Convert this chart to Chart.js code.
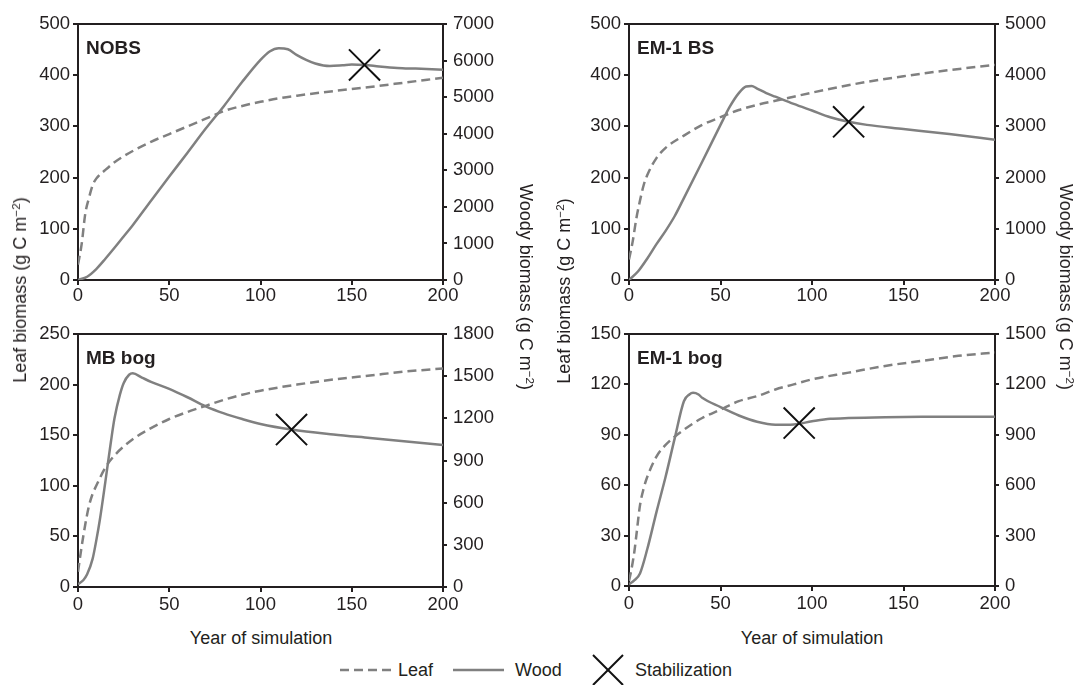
<!DOCTYPE html>
<html>
<head>
<meta charset="utf-8">
<script src="https://cdn.jsdelivr.net/npm/chart.js@4"></script>
<style>
body{margin:0;background:#fff;width:1085px;height:685px;position:relative;overflow:hidden;font-family:'Liberation Sans',Arial,sans-serif;color:#231f20}
canvas{position:absolute}
.lbl{position:absolute;white-space:nowrap;font-size:18px;line-height:1}
.lbl sup{font-size:0.65em;line-height:0;vertical-align:0.55em}
.up{transform:translate(-50%,-50%) rotate(-90deg)}
.down{transform:translate(-50%,-50%) rotate(90deg)}
.mid{transform:translate(-50%,-50%)}
.leg{position:absolute;top:670px;transform:translateY(-50%);font-size:18px;line-height:1;white-space:nowrap}
</style>
</head>
<body>
<div class="lbl up" style="left:20px;top:290px">Leaf biomass (g C m<sup>−2</sup>)</div>
<div class="lbl down" style="left:526px;top:287px">Woody biomass (g C m<sup>−2</sup>)</div>
<div class="lbl up" style="left:564px;top:291px">Leaf biomass (g C m<sup>−2</sup>)</div>
<div class="lbl down" style="left:1066px;top:287px">Woody biomass (g C m<sup>−2</sup>)</div>
<div class="lbl mid" style="left:261px;top:638px">Year of simulation</div>
<div class="lbl mid" style="left:812px;top:638px">Year of simulation</div>

<svg class="leg" style="left:340px" width="52" height="6"><line x1="0" y1="3" x2="52" y2="3" stroke="#808080" stroke-width="2.5" stroke-dasharray="9 5"/></svg>
<div class="leg" style="left:398px">Leaf</div>
<svg class="leg" style="left:453px" width="51" height="6"><line x1="0" y1="3" x2="51" y2="3" stroke="#808080" stroke-width="2.5"/></svg>
<div class="leg" style="left:515px">Wood</div>
<svg class="leg" style="left:592px" width="32" height="32"><line x1="1" y1="1" x2="31" y2="31" stroke="#111" stroke-width="2"/><line x1="31" y1="1" x2="1" y2="31" stroke="#111" stroke-width="2"/></svg>
<div class="leg" style="left:635px">Stabilization</div>

<script>
var ink = '#231f20';
var grey = '#808080';
var fam = "'Liberation Sans', Arial, sans-serif";

var xTicks = [0, 50, 100, 150, 200];

// NOBS
var nobsLeafYears = [0, 2, 4, 6, 8, 10, 15, 20, 30, 40, 50, 60, 70, 80, 90, 100, 110, 120, 140, 160, 180, 200];
var nobsLeaf = [30, 70, 130, 160, 185, 198, 215, 230, 252, 270, 285, 300, 315, 330, 340, 348, 355, 360, 369, 377, 386, 395];
var nobsWoodYears = [0, 5, 10, 15, 20, 25, 30, 40, 50, 60, 70, 80, 90, 100, 105, 110, 115, 120, 125, 130, 138, 145, 150, 157, 165, 175, 185, 200];
var nobsWood = [0, 90, 300, 580, 880, 1190, 1500, 2170, 2830, 3480, 4140, 4760, 5420, 6020, 6250, 6340, 6310, 6150, 6020, 5920, 5850, 5870, 5890, 5880, 5840, 5800, 5780, 5750];
var nobsStab = [157, 5880];
var nobsLeafTicks = [0, 100, 200, 300, 400, 500];
var nobsWoodTicks = [0, 1000, 2000, 3000, 4000, 5000, 6000, 7000];

// EM-1 BS
var bsLeafYears = [0, 2, 4, 6, 8, 10, 15, 20, 30, 40, 50, 60, 70, 80, 90, 100, 115, 130, 150, 175, 200];
var bsLeaf = [40, 75, 120, 155, 185, 205, 238, 258, 282, 303, 318, 332, 342, 350, 358, 366, 377, 387, 398, 410, 420];
var bsWoodYears = [0, 5, 10, 15, 20, 25, 30, 40, 50, 55, 60, 64, 67, 70, 75, 80, 90, 100, 110, 120, 130, 150, 175, 200];
var bsWood = [0, 170, 420, 700, 960, 1250, 1600, 2310, 3030, 3380, 3650, 3780, 3790, 3740, 3650, 3580, 3440, 3310, 3180, 3090, 3030, 2950, 2850, 2740];
var bsStab = [120, 3090];
var bsLeafTicks = [0, 100, 200, 300, 400, 500];
var bsWoodTicks = [0, 1000, 2000, 3000, 4000, 5000];

// MB bog
var mbLeafYears = [0, 2, 4, 6, 8, 10, 15, 20, 30, 40, 50, 60, 70, 80, 90, 100, 120, 140, 160, 180, 200];
var mbLeaf = [15, 40, 62, 80, 92, 100, 118, 130, 146, 157, 166, 173, 179, 185, 190, 194, 200, 205, 209, 213, 216];
var mbWoodYears = [0, 3, 5, 8, 10, 12, 15, 18, 20, 23, 25, 28, 30, 35, 40, 50, 60, 70, 80, 90, 100, 117, 140, 160, 180, 200];
var mbWood = [20, 50, 90, 200, 330, 480, 750, 1030, 1200, 1370, 1450, 1510, 1520, 1490, 1460, 1410, 1350, 1285, 1235, 1195, 1160, 1120, 1085, 1060, 1035, 1010];
var mbStab = [117, 1120];
var mbLeafTicks = [0, 50, 100, 150, 200, 250];
var mbWoodTicks = [0, 300, 600, 900, 1200, 1500, 1800];

// EM-1 bog
var bogLeafYears = [0, 1, 2, 3, 4, 6, 8, 10, 15, 20, 30, 40, 50, 60, 70, 80, 90, 100, 120, 140, 160, 180, 200];
var bogLeaf = [3, 8, 14, 21, 30, 48, 58, 65, 77, 84, 93, 100, 105, 110, 113, 117, 120, 123, 127, 131, 134, 137, 139];
var bogWoodYears = [0, 3, 6, 10, 15, 20, 25, 30, 33, 35, 38, 40, 50, 60, 70, 80, 90, 100, 110, 120, 140, 160, 200];
var bogWood = [10, 35, 75, 220, 440, 650, 880, 1100, 1140, 1150, 1140, 1120, 1065, 1015, 978, 960, 962, 980, 995, 1000, 1005, 1007, 1008];
var bogStab = [93, 970];
var bogLeafTicks = [0, 30, 60, 90, 120, 150];
var bogWoodTicks = [0, 300, 600, 900, 1200, 1500];

function pts(xs, ys) {
    return xs.map(function (x, i) { return { x: x, y: ys[i] }; });
}

// top border of the box + panel name
var frame = {
    id: 'frame',
    afterDraw: function (chart, args, opts) {
        var a = chart.chartArea, ctx = chart.ctx;
        ctx.save();
        ctx.strokeStyle = ink;
        ctx.lineWidth = 2;
        ctx.beginPath();
        ctx.moveTo(a.left - 1, a.top);
        ctx.lineTo(a.right + 1, a.top);
        ctx.stroke();
        ctx.fillStyle = ink;
        ctx.font = 'bold 19px ' + fam;
        ctx.textBaseline = 'alphabetic';
        ctx.fillText(opts.name, a.left + 8, a.top + 30);
        ctx.restore();
    }
};

function axisY(pos, ticks, width) {
    return {
        type: 'linear',
        position: pos,
        min: ticks[0],
        max: ticks[ticks.length - 1],
        afterBuildTicks: function (s) { s.ticks = ticks.map(function (v) { return { value: v }; }); },
        afterFit: function (s) { s.width = width; },
        grid: { drawOnChartArea: false, drawTicks: true, tickLength: pos === 'left' ? 5 : 4, color: ink, lineWidth: 2 },
        border: { display: true, color: ink, width: 2 },
        ticks: { color: ink, font: { family: fam, size: 18.5 }, padding: pos === 'left' ? 3 : 6, callback: function (v) { return String(v); } }
    };
}

function makePanel(p) {
    var c = document.createElement('canvas');
    c.width = p.w;
    c.height = p.h;
    c.style.left = p.left + 'px';
    c.style.top = p.top + 'px';
    document.body.insertBefore(c, document.body.firstChild);

    var a = p.area;
    var leftW = a[0] - p.left;
    var rightW = p.left + p.w - a[2];
    var bottomH = p.top + p.h - a[3];

    new Chart(c.getContext('2d'), {
        type: 'line',
        data: {
            datasets: [
                { label: 'Stabilization', data: [{ x: p.stab[0], y: p.stab[1] }], yAxisID: 'yR', showLine: false,
                  pointStyle: 'crossRot', pointRadius: 22, borderColor: '#111', borderWidth: 2, backgroundColor: 'rgba(0,0,0,0)' },
                { label: 'Leaf', data: pts(p.leafX, p.leafY), yAxisID: 'yL', borderColor: grey, borderWidth: 2.5,
                  borderDash: [9, 5], pointRadius: 0, fill: false, cubicInterpolationMode: 'monotone' },
                { label: 'Wood', data: pts(p.woodX, p.woodY), yAxisID: 'yR', borderColor: grey, borderWidth: 2.5,
                  pointRadius: 0, fill: false, cubicInterpolationMode: 'monotone' }
            ]
        },
        options: {
            responsive: false,
            animation: false,
            devicePixelRatio: 1,
            events: [],
            layout: { padding: { top: a[1] - p.top, left: 0, right: 0, bottom: 0 } },
            plugins: { legend: { display: false }, tooltip: { enabled: false }, frame: { name: p.name } },
            scales: {
                x: {
                    type: 'linear', position: 'bottom', min: 0, max: 200,
                    afterBuildTicks: function (s) { s.ticks = xTicks.map(function (v) { return { value: v }; }); },
                    afterFit: function (s) { s.height = bottomH; },
                    grid: { drawOnChartArea: false, drawTicks: true, tickLength: 5, color: ink, lineWidth: 2 },
                    border: { display: true, color: ink, width: 2 },
                    ticks: { color: ink, font: { family: fam, size: 18.5 }, padding: p.xPad, maxRotation: 0, autoSkip: false }
                },
                yL: axisY('left', p.leafTicks, leftW),
                yR: axisY('right', p.woodTicks, rightW)
            }
        },
        plugins: [frame]
    });
}

makePanel({ name: 'NOBS', left: 0, top: 0, w: 540, h: 310, area: [78, 16, 443, 280], xPad: 0,
    leafX: nobsLeafYears, leafY: nobsLeaf, woodX: nobsWoodYears, woodY: nobsWood, stab: nobsStab,
    leafTicks: nobsLeafTicks, woodTicks: nobsWoodTicks });
makePanel({ name: 'EM-1 BS', left: 540, top: 0, w: 545, h: 310, area: [629, 16, 995, 280], xPad: 0,
    leafX: bsLeafYears, leafY: bsLeaf, woodX: bsWoodYears, woodY: bsWood, stab: bsStab,
    leafTicks: bsLeafTicks, woodTicks: bsWoodTicks });
makePanel({ name: 'MB bog', left: 0, top: 310, w: 540, h: 310, area: [78, 324, 443, 587], xPad: 2,
    leafX: mbLeafYears, leafY: mbLeaf, woodX: mbWoodYears, woodY: mbWood, stab: mbStab,
    leafTicks: mbLeafTicks, woodTicks: mbWoodTicks });
makePanel({ name: 'EM-1 bog', left: 540, top: 310, w: 545, h: 310, area: [629, 324, 995, 586], xPad: 2,
    leafX: bogLeafYears, leafY: bogLeaf, woodX: bogWoodYears, woodY: bogWood, stab: bogStab,
    leafTicks: bogLeafTicks, woodTicks: bogWoodTicks });
</script>
</body>
</html>
